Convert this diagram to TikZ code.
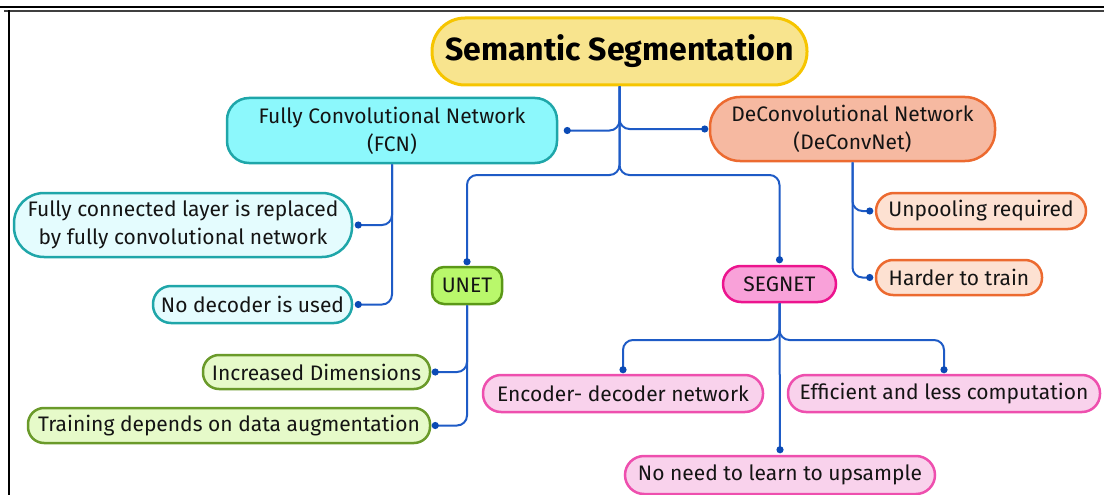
\documentclass[tikz,border=0pt]{standalone}
\usepackage{fontspec}
\setmainfont{Fira Sans}
\usetikzlibrary{calc}
\definecolor{lineblue}{HTML}{1E5BC6}
\definecolor{dotblue}{HTML}{0B4AB5}
\definecolor{txt}{HTML}{141414}
\definecolor{titlefill}{HTML}{F8E48E}
\definecolor{titledraw}{HTML}{F6C500}
\definecolor{fcnfill}{HTML}{8CF8FC}
\definecolor{fcndraw}{HTML}{1FA6A9}
\definecolor{fcnsubfill}{HTML}{E4FCFE}
\definecolor{decfill}{HTML}{F6B9A1}
\definecolor{decdraw}{HTML}{EC6A30}
\definecolor{decsubfill}{HTML}{FDE1D2}
\definecolor{unetfill}{HTML}{B9F86B}
\definecolor{unetdraw}{HTML}{5B9817}
\definecolor{unetsubfill}{HTML}{E6FAC9}
\definecolor{unetsubdraw}{HTML}{6A9A2A}
\definecolor{segfill}{HTML}{F9A1D9}
\definecolor{segdraw}{HTML}{EC148E}
\definecolor{segsubfill}{HTML}{F9D2EC}
\definecolor{segsubdraw}{HTML}{EE4FAE}
\begin{document}
\begin{tikzpicture}[x=1pt,y=-1pt,
  box/.style={draw, line width=2.5pt, align=center, inner sep=0pt, text=txt,
    font=\fontsize{21}{28}\selectfont},
  fcnbox/.style={box, fill=fcnfill, draw=fcndraw},
  fcnsub/.style={box, fill=fcnsubfill, draw=fcndraw},
  decbox/.style={box, fill=decfill, draw=decdraw},
  decsub/.style={box, fill=decsubfill, draw=decdraw},
  unetbox/.style={box, fill=unetfill, draw=unetdraw},
  unetsub/.style={box, fill=unetsubfill, draw=unetsubdraw},
  segbox/.style={box, fill=segfill, draw=segdraw},
  segsub/.style={box, fill=segsubfill, draw=segsubdraw},
  conn/.style={draw=lineblue, line width=2pt, rounded corners=10pt},
  dotc/.style={fill=dotblue}
]
\useasboundingbox (0,0) rectangle (1104,495);
% frame
\fill (0,6.5) rectangle (1104,8.5);
\fill[black!75] (4,10.2) rectangle (1104,11.8);
\fill (7.8,10.2) rectangle (10.2,495);

% nodes
\node[box, fill=titlefill, draw=titledraw, line width=3pt, minimum width=375pt, minimum height=67pt,
  rounded corners=33pt, font=\bfseries\fontsize{32}{36}\selectfont, text=black] (title) at (619.5,51.5) {Semantic Segmentation};

\node[fcnbox, minimum width=330pt, minimum height=65pt, rounded corners=22pt] (fcn) at (392,130.5)
  {Fully Convolutional Network\\(FCN)};
\node[decbox, minimum width=285pt, minimum height=64pt, rounded corners=30pt] (dec) at (852.5,129)
  {DeConvolutional Network\\(DeConvNet)};

\node[fcnsub, minimum width=338pt, minimum height=64pt, rounded corners=30pt] (fc) at (183,225)
  {Fully connected layer is replaced\\by fully convolutional network};
\node[fcnsub, minimum width=199pt, minimum height=37pt, rounded corners=18pt] (nodec) at (252.5,304.5)
  {No decoder is used};

\node[unetbox, minimum width=70pt, minimum height=37pt, rounded corners=12pt] (unet) at (467,285.5) {UNET};
\node[unetsub, minimum width=227pt, minimum height=34pt, rounded corners=16pt] (inc) at (316.5,372)
  {Increased Dimensions};
\node[unetsub, minimum width=402pt, minimum height=35pt, rounded corners=16pt] (train) at (229,425.5)
  {Training depends on data augmentation};

\node[segbox, minimum width=113pt, minimum height=36pt, rounded corners=18pt] (seg) at (779.5,284) {SEGNET};
\node[segsub, minimum width=280pt, minimum height=37pt, rounded corners=18pt] (enc) at (623,393.5)
  {Encoder- decoder network};
\node[segsub, minimum width=312pt, minimum height=37pt, rounded corners=18pt] (eff) at (944,393.5)
  {Efficient and less computation};
\node[segsub, minimum width=310pt, minimum height=38pt, rounded corners=19pt] (noneed) at (780,475)
  {No need to learn to upsample};

\node[decsub, minimum width=210pt, minimum height=36pt, rounded corners=18pt] (unp) at (981,211)
  {Unpooling required};
\node[decsub, minimum width=166pt, minimum height=35pt, rounded corners=17pt] (hard) at (959,277.5)
  {Harder to train};

% junction points
\coordinate (fork) at (619.5,175);
\coordinate (sfork) at (779.5,340);

% connectors from title
\draw[conn] (title.south) |- ([xshift=9pt]fcn.east);
\draw[conn] (title.south) |- ([xshift=-4pt]dec.west);
\draw[conn] (title.south) -- (fork) -| ([yshift=4pt]unet.north);
\draw[conn] (title.south) -- (fork) -| ([yshift=5pt]seg.north);
\fill[dotc] ([xshift=9pt]fcn.east) circle (3.6);
\fill[dotc] ([xshift=-4pt]dec.west) circle (3.6);
\fill[dotc] ([yshift=4pt]unet.north) circle (3.6);
\fill[dotc] ([yshift=5pt]seg.north) circle (3.6);

% FCN children
\draw[conn] (fcn.south) |- ([xshift=5pt]fc.east);
\draw[conn] (fcn.south) |- ([xshift=5pt]nodec.east);
\fill[dotc] ([xshift=5pt]fc.east) circle (3.6);
\fill[dotc] ([xshift=5pt]nodec.east) circle (3.6);

% DeConvNet children
\draw[conn] (dec.south) |- ([xshift=-5pt]unp.west);
\draw[conn] (dec.south) |- ([xshift=-5pt]hard.west);
\fill[dotc] ([xshift=-5pt]unp.west) circle (3.6);
\fill[dotc] ([xshift=-5pt]hard.west) circle (3.6);

% UNET children
\draw[conn] (unet.south) |- ([xshift=4pt]inc.east);
\draw[conn] (unet.south) |- ([xshift=4pt]train.east);
\fill[dotc] ([xshift=4pt]inc.east) circle (3.6);
\fill[dotc] ([xshift=4pt]train.east) circle (3.6);

% SEGNET children
\draw[conn] (seg.south) -- (sfork) -| ([yshift=4pt]enc.north);
\draw[conn] (seg.south) -- (sfork) -| ([yshift=4pt]eff.north);
\draw[conn] (seg.south) -- ([yshift=5pt]noneed.north);
\fill[dotc] ([yshift=4pt]enc.north) circle (3.6);
\fill[dotc] ([yshift=4pt]eff.north) circle (3.6);
\fill[dotc] ([yshift=5pt]noneed.north) circle (3.6);
\end{tikzpicture}
\end{document}
